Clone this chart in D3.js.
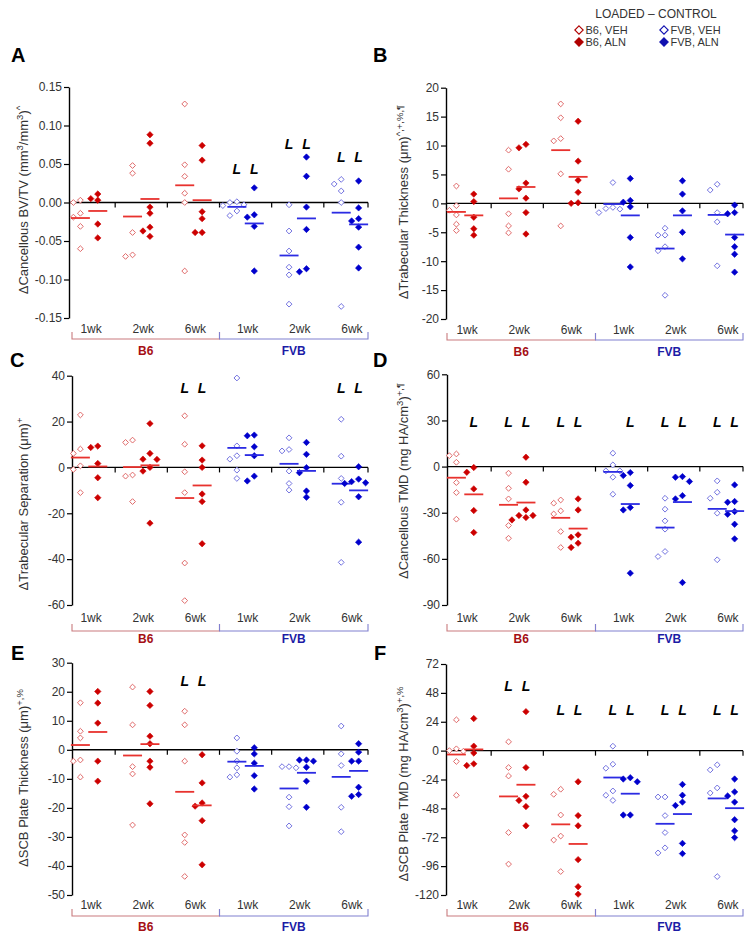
<!DOCTYPE html>
<html>
<head>
<meta charset="utf-8">
<script src="https://cdn.jsdelivr.net/npm/d3@7"></script>
<style>
  body { margin: 0; background: #fff; }
  svg { font-family: "Liberation Sans", Arial, sans-serif; }
</style>
</head>
<body>
<svg id="chart" width="756" height="943"></svg>
<script>
// groups in order: B6 1wk, B6 2wk, B6 6wk, FVB 1wk, FVB 2wk, FVB 6wk
const weeks = ["1wk", "2wk", "6wk", "1wk", "2wk", "6wk"];
const strains = ["B6", "FVB"];

// A - cancellous BV/TV
const bvtvVeh = [
  [0.003, 0, -0.014, -0.019, -0.031, -0.060],
  [0.048, 0.038, -0.039, -0.068, -0.070],
  [0.128, 0.049, 0.034, 0.012, 0, -0.089],
  [0.001, 0, -0.003, -0.004, -0.011, -0.017],
  [-0.003, -0.037, -0.063, -0.084, -0.094, -0.132],
  [0.030, 0.024, 0.015, 0, -0.135]
];
const bvtvAln = [
  [0.011, 0.005, 0.003, -0.028, -0.046],
  [0.088, 0.077, -0.006, -0.014, -0.032, -0.037, -0.044],
  [0.074, 0.055, -0.012, -0.021, -0.039, -0.039],
  [0.019, -0.016, -0.019, -0.031, -0.089],
  [0.059, 0.034, -0.006, -0.035, -0.086, -0.090],
  [0.028, -0.007, -0.021, -0.024, -0.032, -0.058, -0.085]
];
const bvtvSig = [[3, "veh", 0.044], [3, "aln", 0.044], [4, "veh", 0.076], [4, "aln", 0.076], [5, "veh", 0.059], [5, "aln", 0.059]];
const bvtvTicks = [-0.15, -0.10, -0.05, 0, 0.05, 0.10, 0.15];

// B - trabecular thickness
const tbthVeh = [
  [3.0, -0.4, -1.2, -2.0, -3.6, -4.7],
  [9.2, 5.9, -1.8, -3.9, -5.1],
  [17.2, 14.8, 11.2, 10.8, 5.1, -3.9],
  [3.6, -0.7, -0.9, -1.0, -1.6],
  [-4.3, -5.5, -5.5, -7.5, -8.2, -15.9],
  [3.3, 2.3, -1.6, -3.2, -10.8]
];
const tbthAln = [
  [1.6, 0.3, -2.4, -4.4, -5.5],
  [10.2, 9.6, 3.5, 2.5, 0.9, -1.6, -5.3],
  [14.2, 7.3, 4.0, 1.9, 0.1, 0],
  [4.3, 0.5, 0.2, -0.6, -5.9, -11.0],
  [3.9, 1.6, -1.3, -5.0, -9.6],
  [-0.3, -1.6, -1.8, -5.9, -7.5, -8.8, -11.9]
];
const tbthSig = [];
const tbthTicks = [-20, -15, -10, -5, 0, 5, 10, 15, 20];

// C - trabecular separation
const tbspVeh = [
  [22.9, 8.0, 6.1, 0.7, -0.9, -11.0],
  [11.9, 10.9, -3.3, -3.8, -14.9],
  [22.5, 10.1, -1.9, -11.0, -41.7, -58.1],
  [39.0, 9.4, 5.1, 3.6, -1.2, -4.8],
  [12.9, 7.8, 7.2, -1.6, -7.0, -9.9],
  [21.0, 4.9, -4.8, -15.2, -41.4]
];
const tbspAln = [
  [9.3, 8.7, 1.7, -4.5, -13.2],
  [19.1, 6.1, 3.6, 3.5, 0, -1.6, -24.3],
  [9.4, 3.2, 0, -11.6, -14.9, -33.3],
  [14.1, 13.8, 9.0, 5.1, -3.8, -5.9],
  [10.9, 5.7, -0.1, -2.3, -10.3, -13.0],
  [0.3, -5.1, -6.2, -6.7, -7.0, -12.8, -32.6]
];
const tbspSig = [[2, "veh", 34.6], [2, "aln", 34.6], [5, "veh", 34.6], [5, "aln", 34.6]];
const tbspTicks = [-60, -40, -20, 0, 20, 40];

// D - cancellous TMD
const tmdVeh = [
  [8.2, 7.1, 2.8, -10.4, -16.9, -34.2],
  [-4.3, -14.1, -21.0, -38.3, -46.6],
  [-21.7, -23.8, -28.8, -30.8, -42.2, -52.6],
  [8.7, 1.1, -2.8, -2.8, -6.9, -18.0],
  [-20.6, -27.7, -35.3, -40.7, -55.2, -58.5],
  [-9.3, -16.7, -20.6, -30.3, -60.6]
];
const tmdAln = [
  [-0.6, -3.7, -14.5, -28.6, -42.9],
  [6.1, -10.2, -28.2, -31.8, -31.8, -33.1, -34.7],
  [-21.0, -28.2, -44.4, -45.9, -49.8, -52.6],
  [-3.9, -5.8, -12.3, -26.6, -28.2, -69.3],
  [-6.5, -6.9, -9.7, -18.9, -21.0, -75.4],
  [-11.9, -22.7, -23.2, -29.2, -31.0, -37.5, -47.0]
];
const tmdSig = [[0, "aln", 28.6], [1, "veh", 28.6], [1, "aln", 28.6], [2, "veh", 28.6], [2, "aln", 28.6],
                [3, "aln", 28.6], [4, "veh", 28.6], [4, "aln", 28.6], [5, "veh", 28.6], [5, "aln", 28.6]];
const tmdTicks = [-90, -60, -30, 0, 30, 60];

// E - SCB plate thickness
const scbThVeh = [
  [16.2, 6.4, 4.1, -3.5, -3.9, -9.4],
  [21.6, 8.6, -5.8, -8.3, -25.9],
  [13.3, 8.6, -3.9, -29.3, -31.9, -43.6],
  [4.1, -0.5, -3.9, -6.2, -8.6, -9.4],
  [-5.8, -5.8, -6.2, -16.3, -19.6, -26.2],
  [8.2, -1.4, -5.4, -19.8, -28.2]
];
const scbThAln = [
  [20.1, 16.1, 9.2, -3.9, -10.8],
  [20.1, 15.3, 4.7, 2.1, -3.9, -6.0, -18.6],
  [-1.7, -11.4, -18.3, -19.4, -24.4, -39.6],
  [0.7, -1.4, -4.6, -8.9, -13.5],
  [-3.5, -3.5, -3.9, -6.0, -10.8, -19.8],
  [2.1, -0.8, -3.9, -3.9, -12.9, -15.4, -16.0]
];
const scbThSig = [[2, "veh", 23.7], [2, "aln", 23.7]];
const scbThTicks = [-50, -40, -30, -20, -10, 0, 10, 20, 30];

// F - SCB plate TMD
const scbTmdVeh = [
  [25.6, 1.5, 0, -0.5, -9.0, -37.1],
  [7.3, -14.1, -21.1, -68.1, -94.3],
  [-32.1, -36.3, -53.5, -71.0, -74.3, -100.5],
  [3.7, -11.3, -14.6, -33.5, -37.1, -41.4],
  [-38.5, -38.5, -54.0, -68.1, -80.8, -85.0],
  [-11.8, -16.0, -31.0, -35.2, -104.7]
];
const scbTmdAln = [
  [26.7, 3.7, -2.0, -11.0, -12.4],
  [32.4, -14.1, -38.0, -41.4, -46.5, -62.5],
  [-25.9, -54.0, -62.5, -90.6, -113.1, -119.3],
  [-22.5, -23.6, -25.9, -53.5, -53.5],
  [-28.1, -37.1, -42.8, -45.6, -77.1, -85.6],
  [-23.6, -34.3, -37.7, -42.8, -57.4, -66.7, -72.3]
];
const scbTmdSig = [[1, "veh", 53.7], [1, "aln", 53.7], [2, "veh", 34], [2, "aln", 34], [3, "veh", 34], [3, "aln", 34],
                   [4, "veh", 34], [4, "aln", 34], [5, "veh", 34], [5, "aln", 34]];
const scbTmdTicks = [-120, -96, -72, -48, -24, 0, 24, 48, 72];

const colors = {
  B6:  { veh: "#e06a6a", aln: "#cc0000", mean: "#e8322e", bracket: "#c97b7e", label: "#a50f15", legend: "#b00000" },
  FVB: { veh: "#7272e0", aln: "#0000cc", mean: "#2b2be3", bracket: "#8080d0", label: "#1c1ca6", legend: "#1010b0" }
};

const intFmt = d => String(d);

const panels = [
  { letter: "A", lx: 11, ly: 62, veh: bvtvVeh, aln: bvtvAln, sig: bvtvSig, ticks: bvtvTicks, fmt: d => d.toFixed(2),
    label: [["\u0394Cancellous BV/TV (mm", 0], ["3", 1], ["/mm", 0], ["3", 1], [")", 0], ["^", 1]],
    labelX: 28, labelY: 200, axisX: 69, xr: [63, 376], xEnd: 368, yr: [318, 87], row: 0 },
  { letter: "B", lx: 373, ly: 62, veh: tbthVeh, aln: tbthAln, sig: tbthSig, ticks: tbthTicks, fmt: intFmt,
    label: [["\u0394Trabecular Thickness (\u03bcm)", 0], ["^,+,%,\u00b6", 1]],
    labelX: 408, labelY: 202, axisX: 446, xr: [439, 752], xEnd: 743, yr: [319, 87.7], row: 0 },
  { letter: "C", lx: 10, ly: 367, veh: tbspVeh, aln: tbspAln, sig: tbspSig, ticks: tbspTicks, fmt: intFmt,
    label: [["\u0394Trabecular Separation (\u03bcm)", 0], ["+", 1]],
    labelX: 28, labelY: 504, axisX: 72, xr: [63, 376], xEnd: 368, yr: [605, 375.7], row: 1 },
  { letter: "D", lx: 373, ly: 367, veh: tmdVeh, aln: tmdAln, sig: tmdSig, ticks: tmdTicks, fmt: intFmt,
    label: [["\u0394Cancellous TMD  (mg HA/cm", 0], ["3", 1], [")", 0], ["+,\u00b6", 1]],
    labelX: 408, labelY: 481, axisX: 447, xr: [439, 752], xEnd: 743, yr: [605, 374.3], row: 1 },
  { letter: "E", lx: 11, ly: 660, veh: scbThVeh, aln: scbThAln, sig: scbThSig, ticks: scbThTicks, fmt: intFmt,
    label: [["\u0394SCB Plate Thickness (\u03bcm)", 0], ["+,%", 1]],
    labelX: 28, labelY: 778, axisX: 72, xr: [63, 376], xEnd: 368, yr: [895, 662.7], row: 2 },
  { letter: "F", lx: 374, ly: 660, veh: scbTmdVeh, aln: scbTmdAln, sig: scbTmdSig, ticks: scbTmdTicks, fmt: intFmt,
    label: [["\u0394SCB Plate TMD (mg HA/cm", 0], ["3", 1], [")", 0], ["+,%", 1]],
    labelX: 408, labelY: 784, axisX: 446, xr: [439, 752], xEnd: 743, yr: [895, 664], row: 2 }
];

// offsets below the plot bottom for week labels, bracket line, strain labels
const rowLayout = [
  { cat: 15, br: 21, grp: 37 },
  { cat: 17, br: 26, grp: 38 },
  { cat: 14, br: 21, grp: 36 }
];

const svg = d3.select("#chart");

function diamond(r) {
  return `M0,${-r}L${r},0L0,${r}L${-r},0Z`;
}

// simple dodge so that overlapping points sit side by side
function dodge(vals, y, step, minDy) {
  const slots = [0, -1, 1, -2, 2, -3, 3];
  const placed = [];
  const out = [];
  vals.map((v, i) => i).sort((a, b) => vals[b] - vals[a]).forEach(i => {
    const py = y(vals[i]);
    const s = slots.find(s => !placed.some(p => p.s === s && Math.abs(p.y - py) < minDy));
    placed.push({ s: s, y: py });
    out.push({ v: vals[i], y: py, dx: s * step });
  });
  return out;
}

function drawPanel(p) {
  const g = svg.append("g");
  const x = d3.scaleBand().domain(d3.range(6)).range(p.xr);
  const y = d3.scaleLinear().domain([p.ticks[0], p.ticks[p.ticks.length - 1]]).range(p.yr);
  const colX = (i, grp) => x(i) + x.bandwidth() / 2 + (grp === "veh" ? -8.7 : 8.7);

  // panel letter
  g.append("text").attr("x", p.lx).attr("y", p.ly)
    .attr("font-size", 20).attr("font-weight", "bold").text(p.letter);

  // y axis
  const yAxis = d3.axisLeft(y).tickValues(p.ticks).tickFormat(p.fmt).tickSize(5).tickSizeOuter(0).tickPadding(2);
  const ya = g.append("g").attr("transform", `translate(${p.axisX},0)`).call(yAxis);
  ya.select(".domain").attr("stroke", "#000").attr("stroke-width", 1.4);
  ya.selectAll(".tick line").attr("stroke", "#000").attr("stroke-width", 1.2);
  ya.selectAll(".tick text").attr("font-size", 12).attr("fill", "#333")
    .attr("font-family", "Liberation Sans, Arial, sans-serif");

  // y label
  const lab = g.append("text")
    .attr("transform", `translate(${p.labelX},${p.labelY}) rotate(-90)`)
    .attr("text-anchor", "middle").attr("font-size", 13).attr("fill", "#333");
  let up = false;
  p.label.forEach(([t, sup]) => {
    const ts = lab.append("tspan").text(t);
    if (sup && !up) { ts.attr("dy", -5).attr("font-size", 9.5); up = true; }
    else if (sup) { ts.attr("font-size", 9.5); }
    else if (up) { ts.attr("dy", 5); up = false; }
  });

  // zero line with category ticks
  const y0 = y(0);
  g.append("line").attr("x1", p.axisX).attr("x2", p.xEnd).attr("y1", y0).attr("y2", y0)
    .attr("stroke", "#000").attr("stroke-width", 1.4);
  const tickXs = d3.range(1, 6).map(i => x(i)).concat([p.xEnd]);
  g.selectAll(".ztick").data(tickXs).enter().append("line")
    .attr("x1", d => d).attr("x2", d => d).attr("y1", y0).attr("y2", y0 + 5)
    .attr("stroke", "#000").attr("stroke-width", 1.2);

  // points and means
  d3.range(6).forEach(i => {
    const strain = strains[i < 3 ? 0 : 1];
    const c = colors[strain];
    ["veh", "aln"].forEach(grp => {
      const vals = p[grp][i];
      const cx = colX(i, grp);
      const pts = dodge(vals, y, 7, 6);
      g.selectAll(null).data(pts).enter().append("path")
        .attr("d", diamond(grp === "veh" ? 2.9 : 3.2))
        .attr("transform", d => `translate(${cx + d.dx},${d.y})`)
        .attr("fill", grp === "veh" ? "#fff" : c.aln)
        .attr("stroke", grp === "veh" ? c.veh : c.aln)
        .attr("stroke-width", grp === "veh" ? 1 : 0.6);
      const m = y(d3.mean(vals));
      g.append("line").attr("x1", cx - 9.5).attr("x2", cx + 9.5).attr("y1", m).attr("y2", m)
        .attr("stroke", c.mean).attr("stroke-width", 1.8);
    });
  });

  // significance markers
  g.selectAll(".sig").data(p.sig).enter().append("text")
    .attr("x", d => colX(d[0], d[1])).attr("y", d => y(d[2]))
    .attr("dy", "0.35em").attr("text-anchor", "middle")
    .attr("font-size", 14).attr("font-weight", "bold").attr("font-style", "italic")
    .text("L");

  // week labels and strain brackets
  const rl = rowLayout[p.row];
  const bottom = p.yr[0];
  g.selectAll(".wk").data(weeks).enter().append("text")
    .attr("x", (d, i) => x(i) + x.bandwidth() / 2 + 2).attr("y", bottom + rl.cat)
    .attr("text-anchor", "middle").attr("font-size", 12).attr("fill", "#333").text(d => d);

  const left = p.xr[0] === 63 ? 72 : 447;
  const mid = x(3);
  const by = bottom + rl.br;
  const brackets = [
    { s: "B6", x1: left, x2: mid },
    { s: "FVB", x1: mid, x2: p.xEnd }
  ];
  brackets.forEach(b => {
    g.append("path")
      .attr("d", `M${b.x1},${by - 7}V${by}H${b.x2}V${by - 7}`)
      .attr("fill", "none").attr("stroke", colors[b.s].bracket).attr("stroke-width", 1.1);
    g.append("text").attr("x", (b.x1 + b.x2) / 2).attr("y", bottom + rl.grp)
      .attr("text-anchor", "middle").attr("font-size", 12).attr("font-weight", "bold")
      .attr("fill", colors[b.s].label).text(b.s);
  });
}

panels.forEach(drawPanel);

// legend
const legendItems = [
  { s: "B6", grp: "veh", text: "B6, VEH", x: 579, y: 30 },
  { s: "B6", grp: "aln", text: "B6, ALN", x: 579, y: 42 },
  { s: "FVB", grp: "veh", text: "FVB, VEH", x: 664, y: 30 },
  { s: "FVB", grp: "aln", text: "FVB, ALN", x: 664, y: 42 }
];
const lg = svg.append("g");
lg.append("text").attr("x", 656).attr("y", 18).attr("text-anchor", "middle")
  .attr("font-size", 12).attr("fill", "#333").text("LOADED \u2013 CONTROL");
legendItems.forEach(d => {
  const c = colors[d.s].legend;
  lg.append("path").attr("d", diamond(4.2))
    .attr("transform", `translate(${d.x},${d.y})`)
    .attr("fill", d.grp === "veh" ? "#fff" : c)
    .attr("stroke", c).attr("stroke-width", 1.1);
  lg.append("text").attr("x", d.x + 6.5).attr("y", d.y + 4)
    .attr("font-size", 11).attr("fill", "#333").text(d.text);
});
</script>
</body>
</html>
